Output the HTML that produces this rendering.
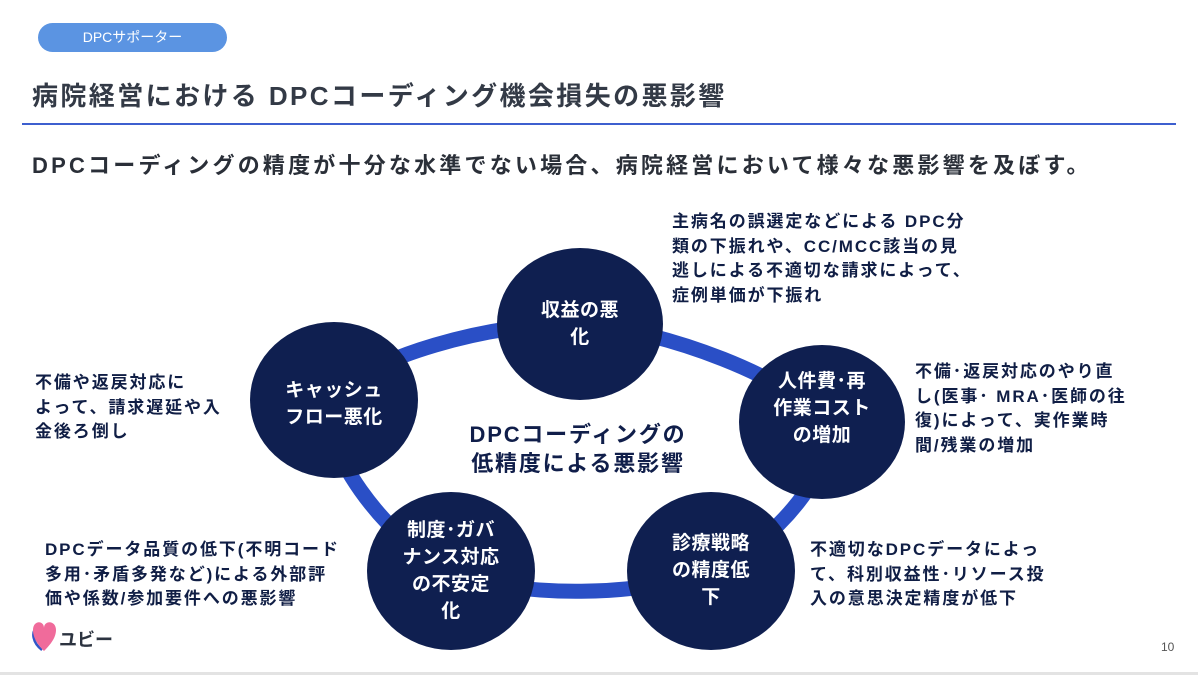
<!DOCTYPE html>
<html><head><meta charset="utf-8"><style>
body{margin:0;width:1198px;height:675px;background:#fff;position:relative;overflow:hidden;font-family:"Liberation Sans","Noto Sans CJK JP",sans-serif;}
.a{position:absolute;white-space:nowrap;}
.pill{left:38px;top:23px;width:189px;height:29px;border-radius:15px;background:#5b94e2;color:#fff;font-size:14px;line-height:29px;text-align:center;}
.t{left:32px;top:76px;font-size:26px;letter-spacing:2.4px;font-weight:bold;color:#333a46;}
.hr{left:22px;top:123px;width:1154px;height:2px;background:#3d5fcf;}
.sub{left:32px;top:148px;font-size:22px;letter-spacing:3.2px;font-weight:bold;color:#2a2f38;}
.d{font-size:17px;letter-spacing:1.9px;font-weight:bold;color:#101e45;line-height:24.5px;}
.c{font-size:19px;font-weight:bold;color:#fff;line-height:27px;text-align:center;letter-spacing:0.5px;}
.m{font-size:22px;letter-spacing:1.8px;font-weight:bold;color:#101e4a;line-height:29px;text-align:center;}
</style></head><body>
<div class="a pill">DPCサポーター</div>
<div class="a t">病院経営における DPCコーディング機会損失の悪影響</div>
<div class="a hr"></div>
<div class="a sub">DPCコーディングの精度が十分な水準でない場合、病院経営において様々な悪影響を及ぼす。</div>
<svg class="a" style="left:0;top:0" width="1198" height="675">
<path d="M580,324 C661,328 800,381 822,422 C844,463 773,546 711,571 C649,596 514,600 451,571 C388,543 312,441 334,400 C356,359 499,320 580,324Z" fill="none" stroke="#2a4fc6" stroke-width="15"/>
<g fill="#0f1f50">
<ellipse cx="580" cy="324" rx="83" ry="76"/>
<ellipse cx="822" cy="422" rx="83" ry="77"/>
<ellipse cx="711" cy="571" rx="84" ry="79"/>
<ellipse cx="451" cy="571" rx="84" ry="79"/>
<ellipse cx="334" cy="400" rx="84" ry="78"/>
</g>
<path d="M38,626 C30,632 33,643 42,650" fill="none" stroke="#3156c8" stroke-width="2.5"/>
<path d="M44,628 C44,620 56,620 56,630 C56,638 50,645 44,651 C38,645 33,638 33,630 C33,620 44,620 44,628Z" fill="#f06b9b"/>
</svg>
<div class="a c" style="left:497px;top:297px;width:166px">収益の悪<br>化</div>
<div class="a c" style="left:739px;top:368px;width:166px">人件費･再<br>作業コスト<br>の増加</div>
<div class="a c" style="left:627px;top:530px;width:168px">診療戦略<br>の精度低<br>下</div>
<div class="a c" style="left:367px;top:517px;width:168px">制度･ガバ<br>ナンス対応<br>の不安定<br>化</div>
<div class="a c" style="left:250px;top:377px;width:168px">キャッシュ<br>フロー悪化</div>
<div class="a m" style="left:430px;top:420px;width:296px">DPCコーディングの<br>低精度による悪影響</div>
<div class="a d" style="left:672px;top:210px">主病名の誤選定などによる DPC分<br>類の下振れや、CC/MCC該当の見<br>逃しによる不適切な請求によって、<br>症例単価が下振れ</div>
<div class="a d" style="left:915px;top:360px">不備･返戻対応のやり直<br>し(医事･ MRA･医師の往<br>復)によって、実作業時<br>間/残業の増加</div>
<div class="a d" style="left:810px;top:538px">不適切なDPCデータによっ<br>て、科別収益性･リソース投<br>入の意思決定精度が低下</div>
<div class="a d" style="left:45px;top:538px">DPCデータ品質の低下(不明コード<br>多用･矛盾多発など)による外部評<br>価や係数/参加要件への悪影響</div>
<div class="a d" style="left:35px;top:371px">不備や返戻対応に<br>よって、請求遅延や入<br>金後ろ倒し</div>
<div class="a" style="left:59px;top:626px;font-size:18px;font-weight:bold;color:#2c3340">ユビー</div>
<div class="a" style="left:1161px;top:640px;font-size:12px;color:#555">10</div>
<div class="a" style="left:0;top:672px;width:1198px;height:3px;background:#e3e3e3"></div>
</body></html>
